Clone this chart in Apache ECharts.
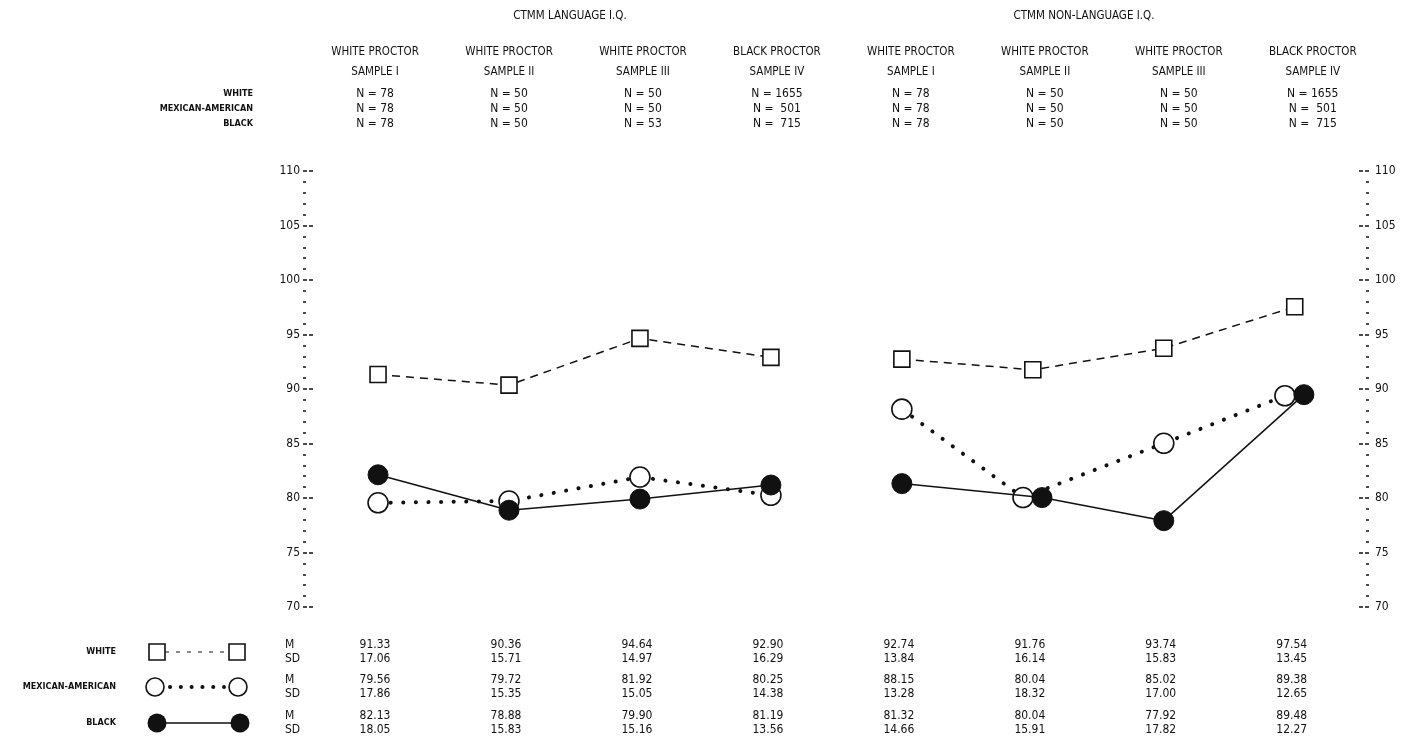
<!DOCTYPE html>
<html>
<head>
<meta charset="utf-8">
<script src="https://cdn.jsdelivr.net/npm/echarts@6/dist/echarts.min.js"></script>
<style>
  html, body { margin: 0; padding: 0; background: #ffffff; }
  #chart { width: 1413px; height: 750px; }
</style>
</head>
<body>
<div id="chart"></div>
<script>
// CTMM Language / Non-Language I.Q. means by ethnic group and proctor sample
const panelTitles = ['CTMM LANGUAGE I.Q.', 'CTMM NON-LANGUAGE I.Q.'];
const proctors = ['WHITE PROCTOR', 'WHITE PROCTOR', 'WHITE PROCTOR', 'BLACK PROCTOR',
                  'WHITE PROCTOR', 'WHITE PROCTOR', 'WHITE PROCTOR', 'BLACK PROCTOR'];
const samples = ['SAMPLE I', 'SAMPLE II', 'SAMPLE III', 'SAMPLE IV',
                 'SAMPLE I', 'SAMPLE II', 'SAMPLE III', 'SAMPLE IV'];
const groups = ['WHITE', 'MEXICAN-AMERICAN', 'BLACK'];

const nWhite = [78, 50, 50, 1655, 78, 50, 50, 1655];
const nMex   = [78, 50, 50, 501, 78, 50, 50, 501];
const nBlack = [78, 50, 53, 715, 78, 50, 50, 715];

const whiteM  = [91.33, 90.36, 94.64, 92.90, 92.74, 91.76, 93.74, 97.54];
const whiteSD = [17.06, 15.71, 14.97, 16.29, 13.84, 16.14, 15.83, 13.45];
const mexM    = [79.56, 79.72, 81.92, 80.25, 88.15, 80.04, 85.02, 89.38];
const mexSD   = [17.86, 15.35, 15.05, 14.38, 13.28, 18.32, 17.00, 12.65];
const blackM  = [82.13, 78.88, 79.90, 81.19, 81.32, 80.04, 77.92, 89.48];
const blackSD = [18.05, 15.83, 15.16, 13.56, 14.66, 15.91, 17.82, 12.27];

const yTicks = { min: 70, max: 110, step: 5 };

const INK = '#111111';
const FONT = "'DejaVu Sans Condensed', 'Liberation Sans Narrow', 'DejaVu Sans', sans-serif";

// Mexican-American and Black markers with (nearly) equal means sit side by side
const mexShift = mexM.map((v, i) => Math.abs(v - blackM[i]) < 0.5 ? -0.075 : 0);
const blackShift = mexM.map((v, i) => Math.abs(v - blackM[i]) < 0.5 ? 0.07 : 0);

function panelPoints(values, panel, shift) {
  return [0, 1, 2, 3].map(k => {
    const i = panel * 4 + k;
    return [i + shift[i], values[i]];
  });
}
const noShift = whiteM.map(() => 0);

const series = [];
[0, 1].forEach(p => {
  series.push({
    name: 'WHITE', type: 'line', z: 2, silent: true,
    data: panelPoints(whiteM, p, noShift),
    symbol: 'rect', symbolSize: 16,
    itemStyle: { color: '#ffffff', borderColor: INK, borderWidth: 1.6 },
    lineStyle: { color: INK, width: 1.5, type: [8, 6] }
  });
  series.push({
    name: 'MEXICAN-AMERICAN', type: 'line', z: 3, silent: true,
    data: panelPoints(mexM, p, mexShift),
    symbol: 'circle', symbolSize: 20,
    itemStyle: { color: '#ffffff', borderColor: INK, borderWidth: 1.6 },
    lineStyle: { color: INK, width: 4, type: [0.1, 12.5], cap: 'round' }
  });
  series.push({
    name: 'BLACK', type: 'line', z: 4, silent: true,
    data: panelPoints(blackM, p, blackShift),
    symbol: 'circle', symbolSize: 20,
    itemStyle: { color: INK, borderColor: INK, borderWidth: 1 },
    lineStyle: { color: INK, width: 1.5, type: 'solid' }
  });
});

function yAxisDef(pos, margin) {
  return {
    type: 'value', position: pos,
    min: yTicks.min, max: yTicks.max, interval: yTicks.step,
    axisLine: { show: false, onZero: false },
    splitLine: { show: false },
    axisTick: { show: true, inside: true, length: 10,
                lineStyle: { color: INK, width: 1.5, type: [4, 2] } },
    minorTick: { show: true, splitNumber: 5, length: 3,
                 lineStyle: { color: INK, width: 1.5 } },
    axisLabel: { margin: margin, fontSize: 12, color: INK, fontFamily: FONT }
  };
}

const chart = echarts.init(document.getElementById('chart'), null, { renderer: 'canvas' });
chart.setOption({
  animation: false,
  backgroundColor: '#ffffff',
  grid: { left: 303, right: 44, top: 171, bottom: 143, containLabel: false, outerBoundsMode: 'none' },
  xAxis: { type: 'value', min: -0.573, max: 7.567, show: false },
  yAxis: [yAxisDef('left', 3), yAxisDef('right', 6)],
  series: series
});

// Header, sample descriptions and the M / SD table laid out against the x scale
const px = i => chart.convertToPixel({ xAxisIndex: 0 }, i);
const g = [];
function text(x, y, str, opts) {
  g.push({
    type: 'text', x: x, y: y, silent: true,
    style: Object.assign({
      text: str, fill: INK, font: '11.5px ' + FONT,
      align: 'center', verticalAlign: 'middle'
    }, opts || {})
  });
}

text(570, 16, panelTitles[0]);
text(1084, 16, panelTitles[1]);

const headRows = [94, 109, 124];
groups.forEach((name, r) => {
  text(253, headRows[r], name, { align: 'right', font: 'bold 9px ' + FONT });
});

const fmtN = n => 'N = ' + (n >= 1000 ? '' : (n >= 100 ? ' ' : '')) + n;
samples.forEach((s, i) => {
  const hx = px(i) - 3 + 3 * i;
  text(hx, 52, proctors[i]);
  text(hx, 72, s);
  text(hx, headRows[0], fmtN(nWhite[i]), { font: '12px ' + FONT });
  text(hx, headRows[1], fmtN(nMex[i]), { font: '12px ' + FONT });
  text(hx, headRows[2], fmtN(nBlack[i]), { font: '12px ' + FONT });
});

// bottom table
const tableRows = [
  { name: groups[0], m: whiteM, sd: whiteSD, y: 652 },
  { name: groups[1], m: mexM, sd: mexSD, y: 687 },
  { name: groups[2], m: blackM, sd: blackSD, y: 723 }
];
tableRows.forEach(row => {
  text(116, row.y, row.name, { align: 'right', font: 'bold 9px ' + FONT });
  text(285, row.y - 7, 'M', { align: 'left', font: '12px ' + FONT });
  text(285, row.y + 7, 'SD', { align: 'left', font: '12px ' + FONT });
  row.m.forEach((v, i) => {
    text(px(i) - 3, row.y - 7, v.toFixed(2), { font: '12px ' + FONT });
    text(px(i) - 3, row.y + 7, row.sd[i].toFixed(2), { font: '12px ' + FONT });
  });
});

// legend keys
const ly = tableRows.map(r => r.y);
g.push({ type: 'line', silent: true, shape: { x1: 165, y1: ly[0], x2: 229, y2: ly[0] },
         style: { stroke: INK, lineWidth: 1.2, lineDash: [4, 7] } });
g.push({ type: 'rect', silent: true, shape: { x: 149, y: ly[0] - 8, width: 16, height: 16 },
         style: { fill: '#fff', stroke: INK, lineWidth: 1.6 } });
g.push({ type: 'rect', silent: true, shape: { x: 229, y: ly[0] - 8, width: 16, height: 16 },
         style: { fill: '#fff', stroke: INK, lineWidth: 1.6 } });

g.push({ type: 'line', silent: true, shape: { x1: 170, y1: ly[1], x2: 224, y2: ly[1] },
         style: { stroke: INK, lineWidth: 4, lineCap: 'round', lineDash: [0.1, 10.7] } });
g.push({ type: 'circle', silent: true, shape: { cx: 155, cy: ly[1], r: 9 },
         style: { fill: '#fff', stroke: INK, lineWidth: 1.6 } });
g.push({ type: 'circle', silent: true, shape: { cx: 238, cy: ly[1], r: 9 },
         style: { fill: '#fff', stroke: INK, lineWidth: 1.6 } });

g.push({ type: 'line', silent: true, shape: { x1: 157, y1: ly[2], x2: 240, y2: ly[2] },
         style: { stroke: INK, lineWidth: 1.5 } });
g.push({ type: 'circle', silent: true, shape: { cx: 157, cy: ly[2], r: 9.5 },
         style: { fill: INK } });
g.push({ type: 'circle', silent: true, shape: { cx: 240, cy: ly[2], r: 9.5 },
         style: { fill: INK } });

chart.setOption({ graphic: { elements: g } });
</script>
</body>
</html>
